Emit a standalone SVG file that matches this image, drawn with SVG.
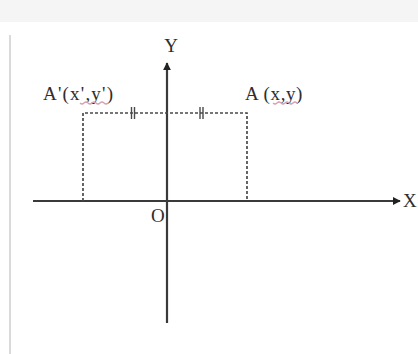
<svg xmlns="http://www.w3.org/2000/svg" width="418" height="354" viewBox="0 0 418 354">
<style>
.axis{stroke:#3a3a3a;stroke-width:2.2;fill:none}
.dash{stroke:#4a4a4a;stroke-width:1.7;fill:none;stroke-dasharray:3 2}
.tick{stroke:#4a4a4a;stroke-width:1.4}
.lbl{font-family:"Liberation Serif","Times New Roman",serif;font-size:19px;fill:#2e2e2e}
.sq{stroke:#d9a0ad;stroke-width:1.2;fill:none}
</style>
<defs>
<marker id="arr" viewBox="0 0 10 10" refX="9" refY="5" markerWidth="8" markerHeight="8" markerUnits="userSpaceOnUse" orient="auto">
<path d="M0,0 L10,5 L0,10 Z" fill="#222"/>
</marker>
</defs>
<rect width="418" height="354" fill="#ffffff"/>
<rect x="0" y="0" width="418" height="22" fill="#f5f5f5"/>
<line x1="10" y1="35" x2="10" y2="354" stroke="#dadada" stroke-width="2"/>
<g id="connectors">
<line class="axis" x1="33" y1="201" x2="400" y2="201" marker-end="url(#arr)"/>
<line class="axis" x1="167" y1="323" x2="167" y2="63" marker-end="url(#arr)"/>
<polyline class="dash" points="83,201 83,113 247,113 247,201"/>
<line class="tick" x1="131.5" y1="107" x2="131.5" y2="119"/>
<line class="tick" x1="134.5" y1="107" x2="134.5" y2="119"/>
<line class="tick" x1="200" y1="107" x2="200" y2="119"/>
<line class="tick" x1="203" y1="107" x2="203" y2="119"/>
</g>
<g id="axisY"><text class="lbl" x="171" y="52" text-anchor="middle">Y</text></g>
<g id="axisX"><text class="lbl" x="403" y="207">X</text></g>
<g id="origin"><text class="lbl" x="151" y="222" font-size="18">O</text></g>
<g id="pointA1">
<text class="lbl" x="43" y="100" letter-spacing="1.2">A'(x',y')</text>
<path class="sq" d="M80,103 q2,2 4,0 t4,0 t4,0 t4,0 t4,0 t4,0 t4,0"/>
</g>
<g id="pointA">
<text class="lbl" x="245" y="100" letter-spacing="0.6">A (x,y)</text>
<path class="sq" d="M273,103 q2,2 4,0 t4,0 t4,0 t4,0 t4,0 t4,0"/>
</g>
</svg>
